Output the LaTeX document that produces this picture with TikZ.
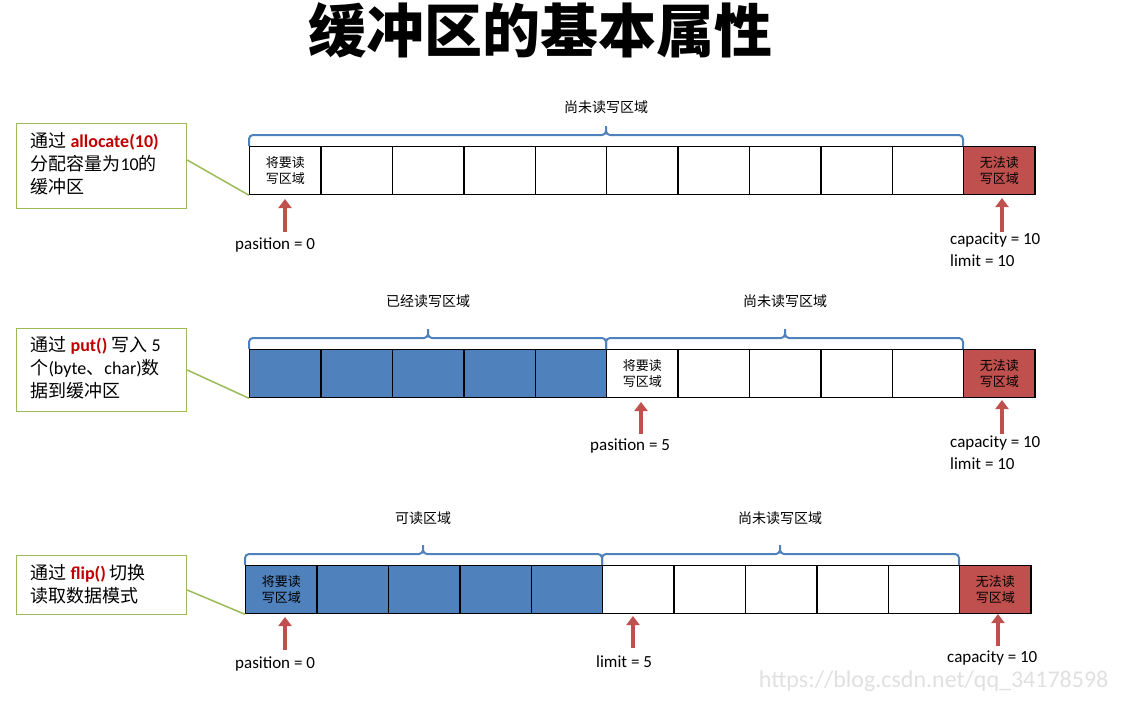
\documentclass[tikz,border=0pt]{standalone}
\usepackage{fontspec}
\usetikzlibrary{arrows.meta}
\setmainfont{Carlito}
\newfontfamily\cjk{Noto Sans CJK SC}
\definecolor{cellblue}{RGB}{79,129,189}
\definecolor{cellred}{RGB}{192,80,77}
\definecolor{brblue}{RGB}{79,129,189}
\definecolor{boxgreen}{RGB}{155,187,89}
\definecolor{txtred}{RGB}{192,0,0}
\tikzset{
 cell/.style={draw=black,line width=1.3pt,minimum width=71.4pt,minimum height=48pt,inner sep=0pt,anchor=north west,font=\cjk\fontsize{13}{16}\selectfont,align=center},
 fullc/.style={cell,fill=cellblue},
 redc/.style={cell,fill=cellred},
 brc/.style={draw=brblue,line width=2pt,rounded corners=4pt},
 brlab/.style={font=\cjk\fontsize{14}{16}\selectfont},
 call/.style={draw=boxgreen,line width=1.2pt,anchor=north west,inner sep=0pt,minimum width=170pt},
 calltxt/.style={font=\fontsize{18}{23}\selectfont,anchor=north west,align=left},
 cline/.style={draw=boxgreen,line width=1.5pt},
 parr/.style={draw=cellred,line width=4pt,-{Triangle[length=9pt,width=13pt]}},
 val/.style={font=\fontsize{17}{22}\selectfont,anchor=north west,align=left,inner sep=0pt},
}
\newcommand{\zh}[1]{{\cjk #1}}
\begin{document}
\begin{tikzpicture}[x=1pt,y=-1pt]
\useasboundingbox (0,0) rectangle (1122,704);
\node[font=\cjk\bfseries\fontsize{58}{60}\selectfont] (title) at (540,30) {缓冲区的基本属性};
% ---- row 1
\node[cell] (a0) at (249,146) {将要读\\写区域};
\foreach \i in {1,...,9}{ \node[cell] (a\i) at ({249+71.4*\i},146) {}; }
\node[redc] (a10) at (963,146) {无法读\\写区域};
\draw[brc] (249,146)--(249,135)--(606,135)--(606,126) (606,126)--(606,135)--(963,135)--(963,146);
\node[brlab] (b1) at (606,107) {尚未读写区域};
\node[call,minimum height=85pt] (c1) at (16,123) {};
\node[calltxt] (t1) at (27,129) {\zh{通过} \textbf{\color{txtred}allocate(10)}\\\zh{分配容量为}10\zh{的}\\\zh{缓冲区}};
\draw[cline] (c1.east|-0,160) -- (a0.south west);
\coordinate (p1) at (285,232); \draw[parr] (p1) -- (285,199);
\node[val] (v1) at (235,238) {pasition = 0};
\coordinate (p2) at (1002,232); \draw[parr] (p2) -- (1002,198);
\node[val] (v2) at (950,233) {capacity = 10\\limit = 10};
% ---- row 2
\foreach \i in {0,...,4}{ \node[fullc] (b\i) at ({249+71.4*\i},349) {}; }
\node[cell] (b5) at (606,349) {将要读\\写区域};
\foreach \i in {6,...,9}{ \node[cell] (b\i) at ({249+71.4*\i},349) {}; }
\node[redc] (b10) at (963,349) {无法读\\写区域};
\draw[brc] (249,349)--(249,338)--(428,338)--(428,329) (428,329)--(428,338)--(606,338)--(606,349);
\draw[brc] (606,349)--(606,338)--(785,338)--(785,329) (785,329)--(785,338)--(963,338)--(963,349);
\node[brlab] (l21) at (428,301) {已经读写区域};
\node[brlab] (l22) at (785,301) {尚未读写区域};
\node[call,minimum height=83pt] (c2) at (16,328) {};
\node[calltxt] (t2) at (27,333) {\zh{通过} \textbf{\color{txtred}put()} \zh{写入} 5\\\zh{个}(byte\zh{、}char)\zh{数}\\\zh{据到缓冲区}};
\draw[cline] (c2.east|-0,370) -- (b0.south west);
\coordinate (p3) at (641,434); \draw[parr] (p3) -- (641,402);
\node[val] (v3) at (590,439) {pasition = 5};
\coordinate (p4) at (1002,434); \draw[parr] (p4) -- (1002,400);
\node[val] (v4) at (950,436) {capacity = 10\\limit = 10};
% ---- row 3
\node[fullc] (d0) at (245,565) {将要读\\写区域};
\foreach \i in {1,...,4}{ \node[fullc] (d\i) at ({245+71.4*\i},565) {}; }
\foreach \i in {5,...,9}{ \node[cell] (d\i) at ({245+71.4*\i},565) {}; }
\node[redc] (d10) at (959,565) {无法读\\写区域};
\draw[brc] (245,565)--(245,554)--(423,554)--(423,545) (423,545)--(423,554)--(602,554)--(602,565);
\draw[brc] (602,565)--(602,554)--(780,554)--(780,545) (780,545)--(780,554)--(959,554)--(959,565);
\node[brlab] (l31) at (423,518) {可读区域};
\node[brlab] (l32) at (780,518) {尚未读写区域};
\node[call,minimum height=59pt] (c3) at (16,555) {};
\node[calltxt] (t3) at (27,561) {\zh{通过} \textbf{\color{txtred}flip()} \zh{切换}\\\zh{读取数据模式}};
\draw[cline] (c3.east|-0,590) -- (d0.south west);
\coordinate (p5) at (285,650); \draw[parr] (p5) -- (285,617);
\node[val] (v5) at (235,657) {pasition = 0};
\coordinate (p6) at (633,648); \draw[parr] (p6) -- (633,616);
\node[val] (v6) at (596,655) {limit = 5};
\coordinate (p7) at (998,646); \draw[parr] (p7) -- (998,614);
\node[val] (v7) at (947,651) {capacity = 10};
\node[font=\fontsize{24}{26}\selectfont,text=black!12,anchor=east] (wm) at (1112,681) {https://blog.csdn.net/qq\_34178598};
\end{tikzpicture}
\end{document}
